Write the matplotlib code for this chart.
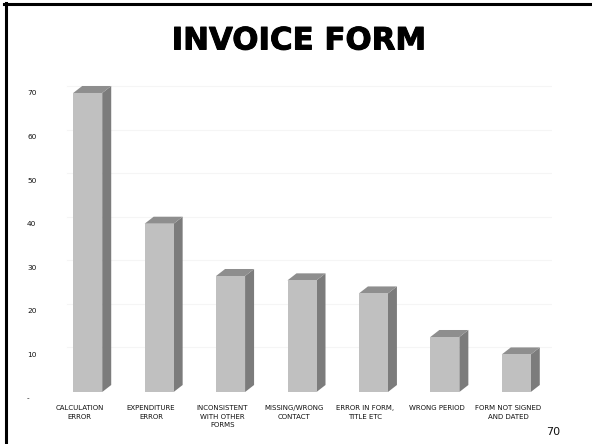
import matplotlib
matplotlib.use('Agg')
import matplotlib.pyplot as plt
import matplotlib.patheffects as pe
from matplotlib.patches import Polygon, Rectangle
from matplotlib.lines import Line2D
from matplotlib.transforms import ScaledTranslation

categories = ['CALCULATION\nERROR', 'EXPENDITURE\nERROR', 'INCONSISTENT\nWITH OTHER\nFORMS',
              'MISSING/WRONG\nCONTACT', 'ERROR IN FORM,\nTITLE ETC', 'WRONG PERIOD',
              'FORM NOT SIGNED\nAND DATED']
counts = [70, 40, 28, 27, 24, 14, 10]
y_ticks = [0, 10, 20, 30, 40, 50, 60, 70]
y_tick_labels = ['-', '10', '20', '30', '40', '50', '60', '70']

W, H, DPI = 592, 444, 100
fig = plt.figure(figsize=(W / DPI, H / DPI), dpi=DPI)
fig.patch.set_facecolor('white')

# plot area in pixels: x 52..552, y (from bottom) 46..373
ax = fig.add_axes([52 / W, 46 / H, 500 / W, 326.8 / H])
ax.set_xlim(-0.5, len(counts) - 0.5)
ax.set_ylim(0, 75)
ax.patch.set_alpha(0)
for s in ax.spines.values():
    s.set_visible(False)

# depth of the fake 3d bars, in data units (9 px right, 7 px up)
px_x = 500 / 7.0
px_y = 326.8 / 75.0
dx, dy = 9 / px_x, 7 / px_y
floor = 6 / px_y
bw = 29 / px_x

front_c, side_c, top_c = '#c0c0c0', '#7c7c7c', '#8e8e8e'

# faint back-wall grid
for t in y_ticks[1:]:
    ax.plot([-0.42 + dx, 6.5], [t + dy, t + dy], color='#f5f5f5', lw=0.8, zorder=0)

for i, v in enumerate(counts):
    l, r = i - bw / 2, i + bw / 2
    ax.add_patch(Polygon([(r, floor), (r + dx, floor + dy), (r + dx, v + dy), (r, v)],
                         closed=True, facecolor=side_c, edgecolor='none', zorder=2))
    ax.add_patch(Polygon([(l, v), (l + dx, v + dy), (r + dx, v + dy), (r, v)],
                         closed=True, facecolor=top_c, edgecolor='none', zorder=2))
    ax.add_patch(Rectangle((l, floor), bw, v - floor, facecolor=front_c,
                           edgecolor='none', zorder=3))

ax.set_yticks(y_ticks)
ax.set_yticklabels(y_tick_labels, fontsize=5.3, color='#111111', ha='left')
ax.tick_params(axis='y', length=0, pad=18)

ax.set_xticks(range(len(categories)))
ax.set_xticklabels(categories, fontsize=5.0, color='#111111', linespacing=1.55)
ax.tick_params(axis='x', length=0, pad=5)
shift = ScaledTranslation(-8 / DPI, 0, fig.dpi_scale_trans)
for lab in ax.get_xticklabels():
    lab.set_transform(lab.get_transform() + shift)

fig.text(299 / W, 1 - 41 / H, 'INVOICE FORM', fontsize=22.2, fontweight='bold',
         ha='center', va='center', color='black',
         path_effects=[pe.withStroke(linewidth=0.7, foreground='black')])
fig.text(553 / W, 1 - 432 / H, '70', fontsize=8, ha='center', va='center', color='#111111')

# slide frame (left and top edges)
fig.add_artist(Line2D([5.5 / W, 5.5 / W], [0, 1 - 3 / H], color='black', lw=2.2))
fig.add_artist(Line2D([4 / W, 1], [1 - 4.5 / H, 1 - 4.5 / H], color='black', lw=2.2))

fig.savefig('out.png', dpi=DPI)
